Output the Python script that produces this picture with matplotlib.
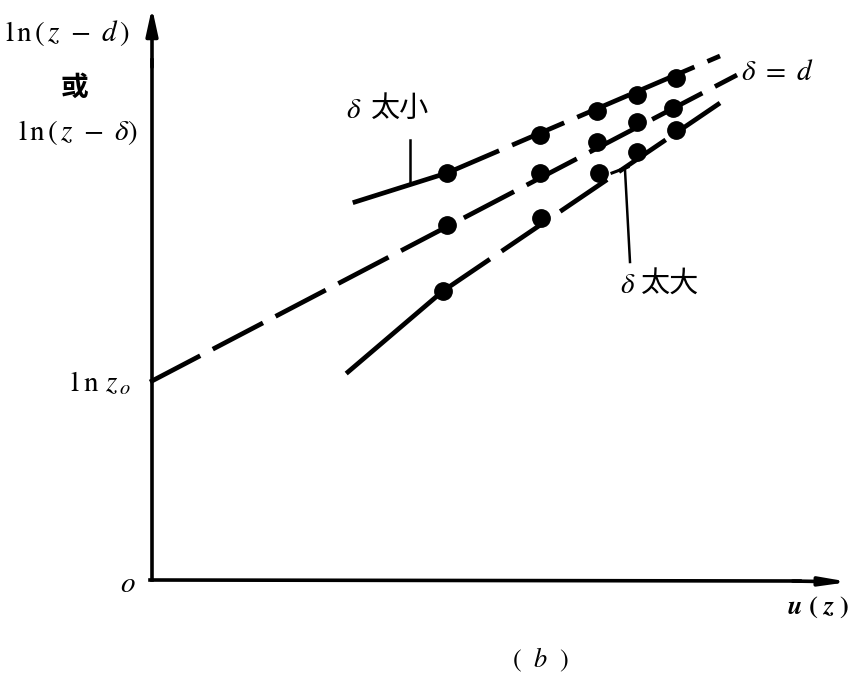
import matplotlib
matplotlib.use('Agg')
import matplotlib.pyplot as plt

plt.rcParams['mathtext.fontset'] = 'stix'
plt.rcParams['font.family'] = ['Liberation Serif', 'Noto Sans CJK SC']

# data, in axis units (u(z) across, ln(z - d) up)
u_small = [2.97, 3.90, 4.47, 4.87, 5.26]
v_small = [4.07, 4.45, 4.69, 4.85, 5.02]
u_equal = [2.97, 3.90, 4.47, 4.87, 5.23]
v_equal = [3.55, 4.07, 4.38, 4.58, 4.72]
u_large = [2.93, 3.91, 4.49, 4.87, 5.26]
v_large = [2.89, 3.62, 4.07, 4.28, 4.50]

# fitted lines, start and end
line_small_u = [2.05, 5.70]
line_small_v = [3.78, 5.24]
line_equal_u = [0.0, 5.87]
line_equal_v = [1.98, 5.05]
line_large_u = [1.98, 5.70]
line_large_v = [2.08, 4.77]

fig = plt.figure(figsize=(8.56, 6.78), dpi=100)
ax = fig.add_axes([0, 0, 1, 1])
ax.set_xlim(-1.5, 7.06)
ax.set_ylim(-0.98, 5.80)
ax.axis('off')

lw = 3.4
dash = (0, (12, 3))

# small delta: solid start then dashed
ax.plot([line_small_u[0], u_small[0]], [line_small_v[0], v_small[0]], color='black', lw=lw)
ax.plot([u_small[0], line_small_u[1]], [v_small[0], line_small_v[1]], color='black', lw=lw, linestyle=dash)
ax.plot(line_equal_u, line_equal_v, color='black', lw=lw, linestyle=dash)
# large delta: solid start then dashed
ax.plot([line_large_u[0], u_large[0]], [line_large_v[0], v_large[0]], color='black', lw=lw)
ax.plot([u_large[0], line_large_u[1]], [v_large[0], line_large_v[1]], color='black', lw=lw, linestyle=dash)

for uu, vv in [(u_small, v_small), (u_equal, v_equal), (u_large, v_large)]:
    ax.plot(uu, vv, 'o', color='black', markersize=12.5, linestyle='none')

# axes with arrows
ax.plot([0.02, 0.02], [0, 5.2], color='black', lw=2.6)
ax.annotate('', xy=(0.02, 5.75), xytext=(0.02, 5.1),
            arrowprops=dict(arrowstyle='-|>,head_length=1.6,head_width=0.35', color='black', lw=2.6))
ax.plot([0, 6.5], [0, -0.01], color='black', lw=2.6)
ax.annotate('', xy=(7.02, -0.02), xytext=(6.4, -0.01),
            arrowprops=dict(arrowstyle='-|>,head_length=1.6,head_width=0.25', color='black', lw=2.6))

# leader lines
ax.plot([2.60, 2.60], [4.40, 3.97], color='black', lw=1.8)
ax.plot([4.75, 4.80], [4.10, 3.18], color='black', lw=1.8)
ax.plot([4.62, 4.78], [4.07, 4.13], color='black', lw=2.2)

fs = 21
ax.text(-0.83, 5.47, r'$\mathrm{l\,n\,(}\,z\ -\ d\,\mathrm{)}$', fontsize=fs, ha='center', va='center')
ax.text(-0.75, 4.92, '或', fontsize=20, ha='center', va='center', family='Noto Sans CJK SC', weight='bold')
ax.text(-0.72, 4.47, r'$\mathrm{l\,n\,(}\,z\ -\ \delta\mathrm{)}$', fontsize=fs, ha='center', va='center')
ax.text(-0.50, 1.97, r'$\mathrm{l\;n\ }z_{\,o}$', fontsize=fs, ha='center', va='center')
ax.text(-0.22, -0.05, r'$o$', fontsize=fs, ha='center', va='center')
ax.text(6.68, -0.27, r'$\boldsymbol{u}\ \mathbf{(}\ \boldsymbol{z}\ \mathbf{)}$', fontsize=19, ha='center', va='center')
ax.text(3.90, -0.80, r'$(\ \ b\ \ )$', fontsize=19, ha='center', va='center')

ax.text(2.04, 4.69, r'$\delta$', fontsize=fs, ha='center', va='center')
ax.text(2.50, 4.71, '太小', fontsize=21, ha='center', va='center', family='Noto Sans CJK SC')
ax.text(4.78, 2.94, r'$\delta$', fontsize=fs, ha='center', va='center')
ax.text(5.20, 2.96, '太大', fontsize=21, ha='center', va='center', family='Noto Sans CJK SC')
ax.text(6.28, 5.07, r'$\delta\ =\ d$', fontsize=fs, ha='center', va='center')

fig.savefig('out.png', dpi=100)
